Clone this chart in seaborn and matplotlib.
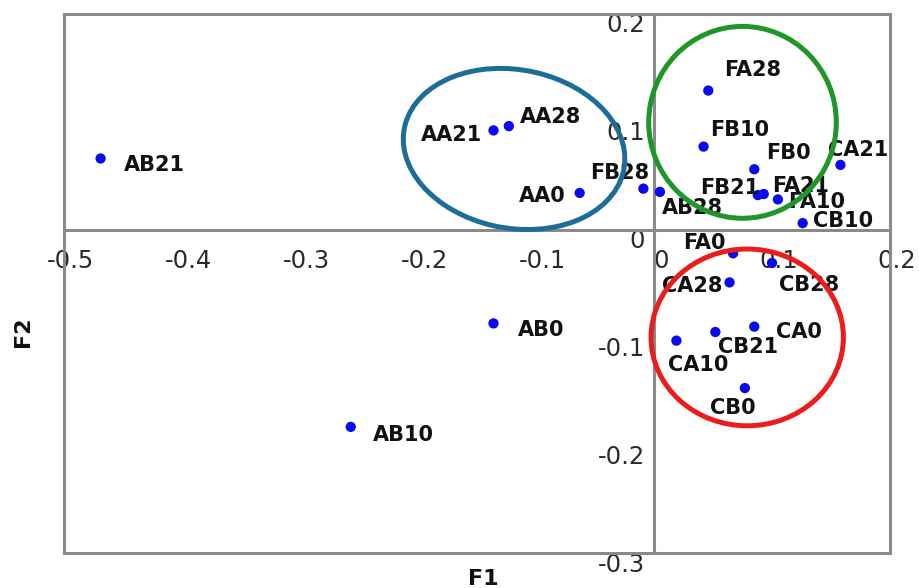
import numpy as np
import pandas as pd
import matplotlib
matplotlib.use("Agg")
import matplotlib.pyplot as plt
import matplotlib.transforms as mtransforms
from matplotlib.patches import Ellipse, Rectangle
import seaborn as sns

# Sample scores on the first two factors
samples = ["AB21", "AA21", "AA28", "AA0", "FB28", "AB28", "FA28", "FB10", "FB0",
           "CA21", "FB21", "FA21", "FA10", "CB10", "FA0", "CB28", "CA28", "CA0",
           "CB21", "CA10", "CB0", "AB0", "AB10"]
f1 = [-0.469, -0.136, -0.123, -0.063, -0.009, 0.005, 0.046, 0.042, 0.085,
      0.158, 0.088, 0.093, 0.105, 0.126, 0.067, 0.100, 0.064, 0.085,
      0.052, 0.019, 0.077, -0.136, -0.257]
f2 = [0.066, 0.092, 0.096, 0.034, 0.038, 0.035, 0.129, 0.077, 0.056,
      0.060, 0.032, 0.033, 0.028, 0.006, -0.022, -0.031, -0.049, -0.090,
      -0.095, -0.103, -0.147, -0.087, -0.183]

x_ticks = [-0.5, -0.4, -0.3, -0.2, -0.1, 0.0, 0.1, 0.2]
x_tick_labels = ["-0.5", "-0.4", "-0.3", "-0.2", "-0.1", "0", "0.1", "0.2"]
y_ticks = [-0.3, -0.2, -0.1, 0.0, 0.1, 0.2]
y_tick_labels = ["-0.3", "-0.2", "-0.1", "0", "0.1", "0.2"]

df = pd.DataFrame({"sample": samples, "F1": f1, "F2": f2})

# label placement (pixels: dx right, dy down) and horizontal alignment
label_pos = {
    "AB21": (23, 7, "left"), "AA21": (-11, 5, "right"), "AA28": (11, -9, "left"),
    "AA0": (-14, 3, "right"), "FB28": (-53, -16, "left"), "AB28": (2, 16, "left"),
    "FA28": (16, -21, "left"), "FB10": (7, -17, "left"), "FB0": (12, -16, "left"),
    "CA21": (-12, -15, "left"), "FB21": (-58, -7, "left"), "FA21": (8, -8, "left"),
    "FA10": (10, 3, "left"), "CB10": (10, -2, "left"), "FA0": (-50, -10, "left"),
    "CB28": (7, 22, "left"), "CA28": (-68, 4, "left"), "CA0": (22, 5, "left"),
    "CB21": (3, 15, "left"), "CA10": (-8, 24, "left"), "CB0": (-35, 20, "left"),
    "AB0": (24, 7, "left"), "AB10": (22, 8, "left"),
}

sns.set_style("white")
plt.rcParams["font.family"] = ["DejaVu Sans"]

AXIS_GRAY = "#8a8a8a"

fig = plt.figure(figsize=(9.2, 5.88), dpi=100)
ax = fig.add_axes([64 / 920, 1 - 553 / 588, 826 / 920, 539 / 588])

sns.scatterplot(data=df, x="F1", y="F2", ax=ax, color="#0a0af0", s=55,
                edgecolor="none", legend=False, zorder=3)

ax.set_xlim(-0.5, 0.2)
ax.set_ylim(-0.3, 0.2)
ax.set_xlabel("")
ax.set_ylabel("")

# axes crossing at the origin, with an outer frame
for side in ("top", "right"):
    ax.spines[side].set_visible(False)
for side in ("left", "bottom"):
    ax.spines[side].set_position(("data", 0))
    ax.spines[side].set_color(AXIS_GRAY)
    ax.spines[side].set_linewidth(2.2)
    ax.spines[side].set_zorder(1)
ax.add_patch(Rectangle((0, 0), 1, 1, transform=ax.transAxes, fill=False,
                       edgecolor=AXIS_GRAY, linewidth=2.2, clip_on=False, zorder=1))

ax.set_xticks(x_ticks)
ax.set_xticklabels(x_tick_labels)
ax.set_yticks(y_ticks)
ax.set_yticklabels(y_tick_labels)
ax.tick_params(axis="both", direction="inout", length=12, width=2,
               color=AXIS_GRAY, labelsize=17.5, labelcolor="#2a2a2a")
ax.tick_params(axis="x", pad=8)
ax.tick_params(axis="y", pad=0.5)

dx_shift = mtransforms.ScaledTranslation(7 / 100, 0, fig.dpi_scale_trans)
for lab in ax.get_xticklabels():
    lab.set_transform(lab.get_transform() + dx_shift)
dy_shift = mtransforms.ScaledTranslation(0, -9 / 100, fig.dpi_scale_trans)
for lab in ax.get_yticklabels():
    lab.set_transform(lab.get_transform() + dy_shift)

# sample labels
for name, x, y in zip(df["sample"], df["F1"], df["F2"]):
    dx, dy, ha = label_pos[name]
    ax.annotate(name, (x, y), xytext=(dx, -dy), textcoords="offset pixels",
                ha=ha, va="center", fontsize=15, fontweight="bold",
                color="#111111", zorder=4)

# group outlines
groups = [
    ((-0.1186, 0.0748), 0.190, 0.1466, -14, "#1c6e98"),
    ((0.0750, 0.0995), 0.159, 0.178, 0, "#1e9628"),
    ((0.0790, -0.1000), 0.163, 0.164, 0, "#ea1c1c"),
]
for center, w, h, ang, col in groups:
    ax.add_patch(Ellipse(center, w, h, angle=ang, fill=False, edgecolor=col,
                         linewidth=3.6, zorder=5))

fig.text(483 / 920, 1 - 579 / 588, "F1", ha="center", va="center",
         fontsize=16, fontweight="bold", color="#111111")
fig.text(23 / 920, 1 - 332 / 588, "F2", ha="center", va="center", rotation=90,
         fontsize=16, fontweight="bold", color="#111111")

fig.savefig("out.png", dpi=100)
